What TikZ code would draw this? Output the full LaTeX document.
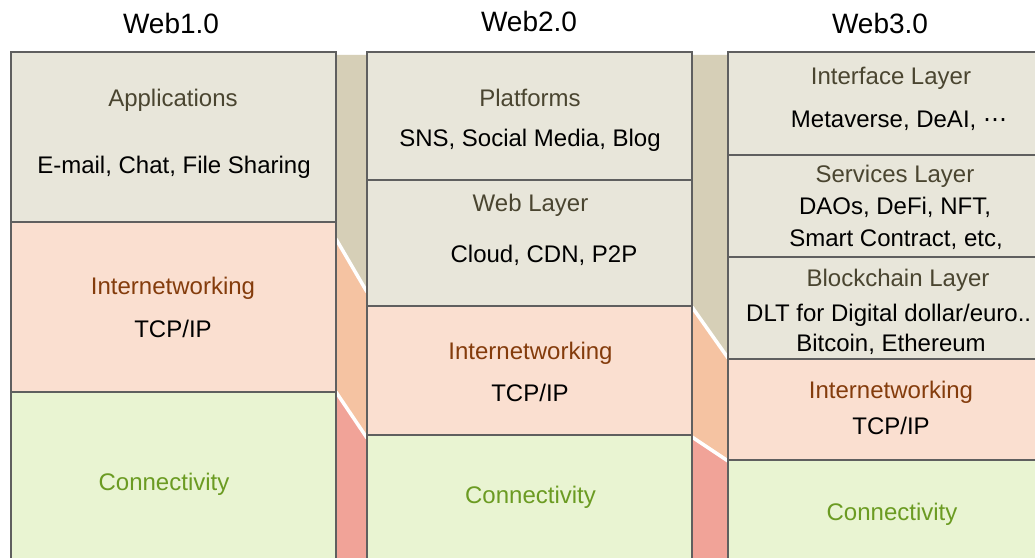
\documentclass[tikz,border=0pt]{standalone}
\usepackage{fontspec}
\setmainfont{Liberation Sans}
\newfontfamily\dejavu{DejaVu Sans}
\definecolor{boxbg}{HTML}{E8E6DA}
\definecolor{interbg}{HTML}{FADFD0}
\definecolor{connbg}{HTML}{E9F4D2}
\definecolor{bandbeige}{HTML}{D6CFB7}
\definecolor{bandorange}{HTML}{F5C3A2}
\definecolor{bandred}{HTML}{F1A398}
\definecolor{bordergray}{HTML}{5F5F5F}
\definecolor{headtxt}{HTML}{4A4530}
\definecolor{intertxt}{HTML}{843C0C}
\definecolor{conntxt}{HTML}{6B9B22}
\tikzset{
  layerbox/.style={draw=bordergray, line width=2.4bp},
  sepline/.style={white, line width=3.5bp},
  body/.style={anchor=base, inner sep=0pt, font=\fontsize{24bp}{28bp}\selectfont, text=black},
  head/.style={body, text=headtxt},
  interhead/.style={body, text=intertxt},
  connhead/.style={body, text=conntxt},
  title/.style={anchor=base, inner sep=0pt, font=\fontsize{28bp}{32bp}\selectfont, text=black}
}
\begin{document}
\begin{tikzpicture}[x=1bp,y=-1bp]
\useasboundingbox (0,0) rectangle (1035,558);
\clip (0,0) rectangle (1035,558);
\fill[white] (0,0) rectangle (1035,558);
% band 1
\fill[bandbeige] (336,55) -- (367,55) -- (367,292) -- (336,239) -- cycle;
\fill[bandorange] (336,239) -- (367,292) -- (367,438) -- (336,392) -- cycle;
\fill[bandred] (336,392) -- (367,438) -- (367,575) -- (336,575) -- cycle;
\coordinate (b1a) at (336,239); \coordinate (b1b) at (367,292);
\coordinate (b1c) at (336,392); \coordinate (b1d) at (367,438);
\draw[sepline] (b1a) -- (b1b);
\draw[sepline] (b1c) -- (b1d);
% band 2
\fill[bandbeige] (692,55) -- (728,55) -- (728,358) -- (692,307) -- cycle;
\fill[bandorange] (692,307) -- (728,358) -- (728,461) -- (692,437) -- cycle;
\fill[bandred] (692,437) -- (728,461) -- (728,575) -- (692,575) -- cycle;
\coordinate (b2a) at (692,307); \coordinate (b2b) at (728,358);
\coordinate (b2c) at (692,437); \coordinate (b2d) at (728,461);
\draw[sepline] (b2a) -- (b2b);
\draw[sepline] (b2c) -- (b2d);
% column 1
\draw[layerbox, fill=boxbg] (11,52) rectangle (336,222);
\draw[layerbox, fill=interbg] (11,222) rectangle (336,392);
\draw[layerbox, fill=connbg] (11,392) rectangle (336,580);
% column 2
\draw[layerbox, fill=boxbg] (367,52) rectangle (692,180);
\draw[layerbox, fill=boxbg] (367,180) rectangle (692,306);
\draw[layerbox, fill=interbg] (367,306) rectangle (692,435);
\draw[layerbox, fill=connbg] (367,435) rectangle (692,580);
% column 3
\draw[layerbox, fill=boxbg] (728,52) rectangle (1054,155);
\draw[layerbox, fill=boxbg] (728,155) rectangle (1054,257);
\draw[layerbox, fill=boxbg] (728,257) rectangle (1054,359);
\draw[layerbox, fill=interbg] (728,359) rectangle (1054,460);
\draw[layerbox, fill=connbg] (728,460) rectangle (1054,580);
% titles
\node[title] (t1) at (171,33.3) {Web1.0};
\node[title] (t2) at (529,31.7) {Web2.0};
\node[title] (t3) at (880,33.3) {Web3.0};
% column 1 texts
\node[head] (c1app) at (173,106.7) {Applications};
\node[body] (c1appt) at (174,174) {E-mail, Chat, File Sharing};
\node[interhead] (c1int) at (173,295) {Internetworking};
\node[body] (c1tcp) at (173,338) {TCP/IP};
\node[connhead] (c1con) at (164,490.7) {Connectivity};
% column 2 texts
\node[head] (c2plat) at (530,107) {Platforms};
\node[body] (c2platt) at (530,146.7) {SNS, Social Media, Blog};
\node[head] (c2web) at (530.5,211.7) {Web Layer};
\node[body] (c2webt) at (544,263) {Cloud, CDN, P2P};
\node[interhead] (c2int) at (530.5,359.3) {Internetworking};
\node[body] (c2tcp) at (530,401.7) {TCP/IP};
\node[connhead] (c2con) at (530.5,503.3) {Connectivity};
% column 3 texts
\node[head] (c3if) at (891,85) {Interface Layer};
\node[body] (c3ift) at (899,127.3) {Metaverse, DeAI, {\dejavu ⋯}};
\node[head] (c3sv) at (895,183) {Services Layer};
\node[body] (c3svt1) at (895,215) {DAOs, DeFi, NFT,};
\node[body] (c3svt2) at (896,246.7) {Smart Contract, etc,};
\node[head] (c3bc) at (898,286.7) {Blockchain Layer};
\node[body, anchor=base west] (c3bct1) at (746,321.7) {DLT for Digital dollar/euro..};
\node[body] (c3bct2) at (891,351.7) {Bitcoin, Ethereum};
\node[interhead] (c3int) at (891,398.3) {Internetworking};
\node[body] (c3tcp) at (891,434.3) {TCP/IP};
\node[connhead] (c3con) at (892,520) {Connectivity};
\end{tikzpicture}
\end{document}
